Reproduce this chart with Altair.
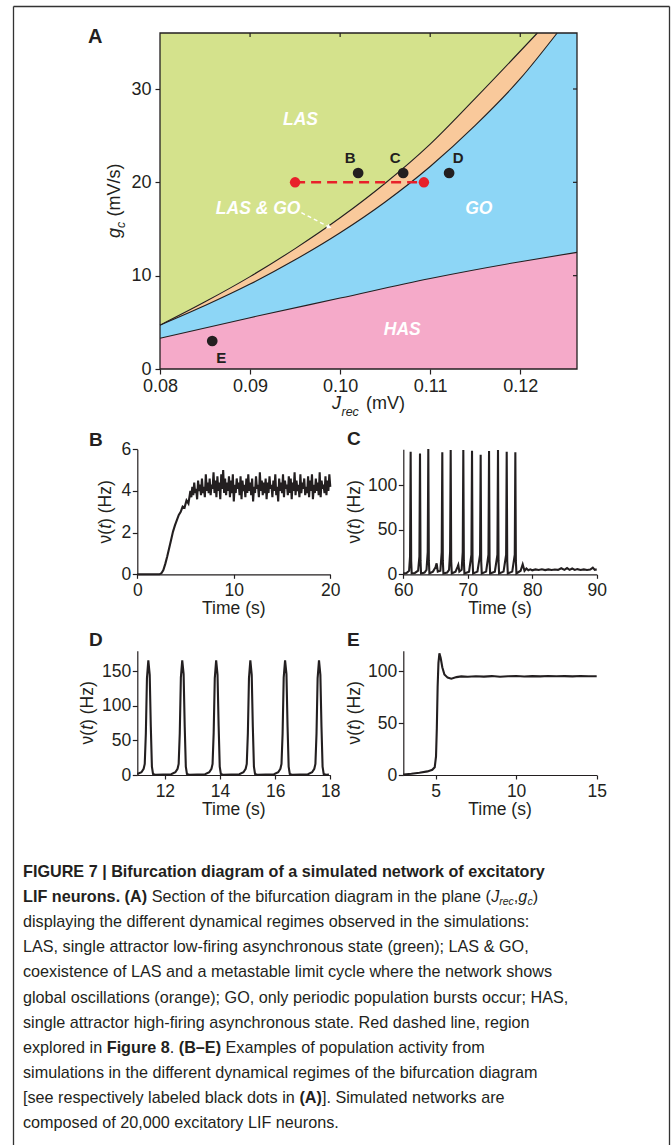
import altair as alt
import pandas as pd

# ---------------- Panel A : bifurcation diagram ----------------
J_UPPER = [0.080, 0.085, 0.090, 0.095, 0.100, 0.105, 0.110, 0.115, 0.1219]
G_UPPER = [4.7, 7.2, 9.9, 12.9, 16.2, 19.9, 24.1, 29.0, 36.0]
J_LOWER = [0.080, 0.085, 0.090, 0.095, 0.100, 0.105, 0.110, 0.115, 0.120, 0.1241]
G_LOWER = [4.7, 6.8, 9.1, 11.7, 14.6, 17.9, 21.7, 26.1, 31.1, 36.0]
J_HAS = [0.080, 0.090, 0.100, 0.110, 0.120, 0.1263]
G_HAS = [3.3, 5.5, 7.6, 9.7, 11.5, 12.5]
A_GMIN, A_GMAX = 0.0, 36.0

DOT_NAMES = ["B", "C", "D", "E"]
DOT_J = [0.1020, 0.1070, 0.1121, 0.0858]
DOT_G = [21.0, 21.0, 21.0, 3.0]
RED_J = [0.0950, 0.1093]
RED_G = [20.0, 20.0]
REGION_NAMES = ["LAS", "LAS & GO", "GO", "HAS"]
REGION_J = [0.0956, 0.0909, 0.1154, 0.1069]
REGION_G = [26.7, 17.1, 17.1, 4.2]
ARROW_J = [0.0957, 0.0988]
ARROW_G = [16.75, 15.2]
A_XTICKS = [0.08, 0.09, 0.10, 0.11, 0.12]
A_YTICKS = [0, 10, 20, 30]

# ---------------- Panel B ----------------
B_T_RISE = [0, 1, 2, 2.3, 2.5, 2.7, 2.9, 3.1, 3.3, 3.5, 3.7, 3.9, 4.1, 4.3, 4.5, 4.7, 4.9, 5.1, 5.3]
B_V_RISE = [0, 0, 0, 0.0, 0.05, 0.2, 0.5, 0.85, 1.25, 1.65, 2.05, 2.35, 2.6, 2.85, 3.0, 3.25, 3.2, 3.55, 3.4]
B_V_PLATEAU = [
    4.0, 3.7, 4.2, 3.8, 4.4, 3.9, 4.1, 3.6, 4.5, 4.0,
    4.3, 3.8, 4.6, 3.9, 4.2, 3.7, 4.8, 4.0, 4.4, 3.9,
    4.6, 3.8, 4.3, 4.1, 4.9, 3.9, 4.5, 3.7, 4.7, 4.0,
    4.4, 3.6, 4.8, 4.1, 5.0, 3.9, 4.6, 3.8, 4.4, 4.0,
    4.7, 3.7, 4.5, 3.9, 4.8, 3.5, 4.3, 3.9, 4.6, 4.1,
    4.4, 3.8, 4.7, 3.6, 4.5, 4.0, 4.3, 3.7, 4.6, 3.9,
    4.8, 4.0, 4.4, 3.8, 4.6, 3.5, 4.2, 3.9, 4.7, 4.1,
    4.3, 3.7, 4.9, 4.0, 4.5, 3.8, 4.4, 3.9, 4.6, 3.6,
    4.4, 3.9, 4.7, 4.1, 4.3, 3.7, 4.5, 4.0, 4.8, 3.8,
    4.2, 3.5, 4.6, 4.0, 4.4, 3.9, 4.8, 3.7, 4.5, 4.1,
    4.3, 3.8, 4.7, 3.9, 4.6, 3.6, 4.4, 4.0, 4.9, 3.8,
    4.5, 4.0, 4.3, 3.7, 4.8, 3.9, 4.4, 4.1, 4.6, 3.8,
    4.2, 3.9, 4.7, 3.7, 4.5, 4.0, 4.8, 3.6, 4.3, 3.9,
    4.6, 4.0, 4.4, 3.8, 4.9, 3.7, 4.5, 4.1, 4.3, 3.9,
    4.7, 3.8, 4.5, 4.0, 4.8, 4.2,
]
B_T_PLATEAU = [round(5.5 + 0.1 * i, 2) for i in range(len(B_V_PLATEAU))]  # sampling grid

# ---------------- Panel C ----------------
C_T = [60.0, 60.5, 60.9, 61.05, 61.14, 61.22, 61.30,
       61.8, 62.3, 62.50, 62.59, 62.67, 62.75,
       63.3, 63.6, 63.79, 63.88, 63.96, 64.05,
       64.6, 65.0, 65.17, 65.35, 65.75, 65.96, 66.05, 66.13, 66.22,
       66.8, 67.1, 67.26, 67.35, 67.43, 67.52,
       68.1, 68.4, 68.53, 68.7, 69.05, 69.22, 69.31, 69.39, 69.48,
       70.2, 70.57, 70.66, 70.74, 70.83,
       71.5, 71.91, 72.00, 72.08, 72.17,
       72.85, 73.21, 73.30, 73.38, 73.47,
       74.2, 74.60, 74.69, 74.77, 74.86,
       75.55, 75.95, 76.04, 76.12, 76.21,
       76.9, 77.29, 77.38, 77.46, 77.55,
       78.2, 78.52, 78.8, 79.1, 79.4, 79.7, 80.0, 80.5, 81.0, 81.5, 82.0, 82.5, 83.0,
       83.5, 84.0, 84.5, 85.0, 85.4, 85.8, 86.2, 86.6, 87.0, 87.5, 88.0, 88.5, 89.0,
       89.4, 89.7, 90.0]
C_V = [1.0, 1.5, 4.0, 20.0, 137.3, 15.0, 1.0,
       1.5, 4.0, 20.0, 135.4, 15.0, 1.0,
       2.0, 5.0, 25.0, 140.3, 15.0, 1.0,
       3.0, 8.0, 12.3, 3.0, 4.0, 25.0, 136.6, 15.0, 1.0,
       2.0, 5.0, 25.0, 139.2, 15.0, 1.0,
       3.0, 8.0, 10.4, 3.0, 5.0, 25.0, 139.2, 15.0, 1.0,
       3.0, 22.0, 138.4, 15.0, 1.0,
       3.0, 22.0, 134.0, 15.0, 1.0,
       3.0, 22.0, 138.1, 15.0, 1.0,
       3.0, 22.0, 139.2, 15.0, 1.0,
       3.0, 22.0, 137.3, 15.0, 1.0,
       3.0, 22.0, 136.6, 15.0, 1.0,
       4.0, 11.2, 4.0, 6.5, 4.5, 5.5, 4.5, 5.5, 4.8, 5.6, 4.7, 5.5, 4.8,
       5.4, 5.0, 6.8, 5.0, 7.0, 5.0, 6.5, 4.9, 5.8, 4.8, 5.5, 4.9, 5.3,
       7.5, 5.0, 5.5]

# ---------------- Panel D ----------------
D_T = [11.00, 11.15, 11.23, 11.27, 11.31, 11.35, 11.40, 11.45, 11.49, 11.53, 11.57, 11.65,
       12.23, 12.38, 12.46, 12.50, 12.54, 12.58, 12.63, 12.68, 12.72, 12.76, 12.80, 12.88,
       13.46, 13.61, 13.69, 13.73, 13.77, 13.81, 13.86, 13.91, 13.95, 13.99, 14.03, 14.11,
       14.70, 14.85, 14.93, 14.97, 15.01, 15.05, 15.10, 15.15, 15.19, 15.23, 15.27, 15.35,
       15.96, 16.11, 16.19, 16.23, 16.27, 16.31, 16.36, 16.41, 16.45, 16.49, 16.53, 16.61,
       17.19, 17.34, 17.42, 17.46, 17.50, 17.54, 17.59, 17.64, 17.68, 17.72, 17.76, 17.84,
       17.95]
D_V = [1.5, 4.0, 9.0, 16.0, 60.0, 140.0, 166.0, 145.0, 70.0, 12.0, 1.5, 0.3,
       1.0, 4.0, 9.0, 16.0, 60.0, 141.0, 166.0, 146.0, 70.0, 12.0, 1.5, 0.3,
       1.0, 4.0, 9.0, 16.0, 61.0, 140.0, 166.0, 145.0, 71.0, 12.0, 1.5, 0.3,
       1.0, 4.0, 9.0, 16.0, 60.0, 140.0, 166.0, 145.0, 70.0, 12.0, 1.5, 0.3,
       1.0, 4.0, 9.0, 16.0, 60.0, 141.0, 166.0, 146.0, 70.0, 12.0, 1.5, 0.3,
       1.0, 4.0, 9.0, 16.0, 60.0, 140.0, 166.0, 145.0, 70.0, 12.0, 1.5, 0.3,
       0.5]

# ---------------- Panel E ----------------
E_T = [3.0, 3.5, 4.0, 4.5, 4.8, 4.95, 5.03, 5.08, 5.13, 5.18, 5.24, 5.32, 5.42, 5.55, 5.75,
       5.98, 6.3, 6.6, 7.0, 7.5, 8.0, 8.5, 9.0, 9.5, 10.0, 10.5, 11.0, 11.5, 12.0, 12.5,
       13.0, 13.5, 14.0, 14.5, 15.0]
E_V = [0.5, 1.2, 2.2, 3.5, 5.0, 7.5, 18.0, 45.0, 85.0, 108.0, 117.5, 113.0, 104.0, 97.0, 94.0,
       93.0, 94.5, 95.2, 94.8, 95.4, 95.0, 95.5, 94.9, 95.3, 95.6, 95.1, 95.5, 95.2, 95.6, 95.3,
       95.5, 95.2, 95.6, 95.3, 95.4]

# ---------------- Caption ----------------
CAPTION = [
    [("FIGURE 7 | Bifurcation diagram of a simulated network of excitatory", "bold")],
    [("LIF neurons. (A)", "bold"), (" Section of the bifurcation diagram in the plane (", "normal"),
     ("J", "italic"), ("rec", "sub"), (",", "normal"), ("g", "italic"), ("c", "sub"), (")", "normal")],
    [("displaying the different dynamical regimes observed in the simulations:", "normal")],
    [("LAS, single attractor low-firing asynchronous state (green); LAS & GO,", "normal")],
    [("coexistence of LAS and a metastable limit cycle where the network shows", "normal")],
    [("global oscillations (orange); GO, only periodic population bursts occur; HAS,", "normal")],
    [("single attractor high-firing asynchronous state. Red dashed line, region", "normal")],
    [("explored in ", "normal"), ("Figure 8", "bold"), (". ", "normal"), ("(B\u2013E)", "bold"),
     (" Examples of population activity from", "normal")],
    [("simulations in the different dynamical regimes of the bifurcation diagram", "normal")],
    [("[see respectively labeled black dots in ", "normal"), ("(A)", "bold"),
     ("]. Simulated networks are", "normal")],
    [("composed of 20,000 excitatory LIF neurons.", "normal")],
]
RATE_TITLE = [("\u03bd(", "normal"), ("t", "italic"), (") (Hz)", "normal")]

# ================= layout / style (page pixel coordinates) =================
W, H = 671, 1145
FONT = "Liberation Sans, Arial, Helvetica, sans-serif"
INK = "#231f20"
GREEN, BLUE, PINK, ORANGE, RED = "#d4e28c", "#8dd6f6", "#f5aac9", "#f9c99b", "#e8202a"
ONE = pd.DataFrame({"k": [0]})

# Arial / Liberation Sans advance widths (1/1000 em) used to chain text segments
_REG = dict(zip(" !\"#$%&'()*+,-./0123456789:;<=>?@", [278, 278, 355, 556, 556, 889, 667, 191, 333, 333, 389, 584, 278, 333, 278, 278] + [556] * 10 + [278, 278, 584, 584, 584, 556, 1015]))
_REG.update(dict(zip("ABCDEFGHIJKLMNOPQRSTUVWXYZ", [667, 667, 722, 722, 667, 611, 778, 722, 278, 500, 667, 556, 833, 722, 778, 667, 778, 722, 667, 611, 722, 667, 944, 667, 667, 611])))
_REG.update(dict(zip("abcdefghijklmnopqrstuvwxyz", [556, 556, 500, 556, 556, 278, 556, 556, 222, 222, 500, 222, 833, 556, 556, 556, 556, 333, 500, 278, 556, 500, 722, 500, 500, 500])))
_REG.update({"[": 278, "]": 278, "|": 260, "\u2013": 556, "\u03bd": 500})
_BOLD = dict(_REG)
_BOLD.update(dict(zip("ABCDEFGHIJKLMNOPQRSTUVWXYZ", [722, 722, 722, 722, 667, 611, 778, 722, 278, 556, 722, 611, 833, 722, 778, 667, 778, 722, 667, 611, 722, 667, 944, 667, 667, 611])))
_BOLD.update(dict(zip("abcdefghijklmnopqrstuvwxyz", [556, 611, 556, 611, 556, 333, 611, 611, 278, 278, 556, 278, 889, 611, 611, 611, 611, 389, 556, 333, 611, 556, 778, 556, 556, 500])))
_BOLD.update({"|": 280, "!": 333, ":": 333, ";": 333})


def measure(s, size, bold=False):
    tab = _BOLD if bold else _REG
    return sum(tab.get(ch, 556) for ch in s) * size / 1000.0


def sc(domain, rng):
    return alt.Scale(domain=domain, range=rng, nice=False, zero=False)


def ax(orient, offset, values, tick=5, pad=2, domain=True, fmt=None, size=17.5):
    kw = dict(orient=orient, offset=offset, values=values, title=None, grid=False,
              tickSize=tick, labelPadding=pad, domain=domain, labelFlush=False,
              labelOverlap=False, labelFont=FONT, labelFontSize=size, labelColor=INK,
              tickColor=INK, domainColor=INK, tickWidth=1.2, domainWidth=1.2)
    if fmt:
        kw["format"] = fmt
    return alt.Axis(**kw)


def txt(x, y, s, size=17.5, weight="normal", style="normal", angle=0, align="left",
        baseline="alphabetic", color=INK):
    return alt.Chart(ONE).mark_text(
        font=FONT, fontSize=size, fontWeight=weight, fontStyle=style, angle=angle,
        align=align, baseline=baseline, color=color
    ).encode(x=alt.value(x), y=alt.value(y), text=alt.value(s))


# ---------------- Panel A ----------------
AX0, AX1, AY0, AY1 = 160, 577, 33, 369
dfU = pd.DataFrame({"J": J_UPPER, "g": G_UPPER})
dfL = pd.DataFrame({"J": J_LOWER, "g": G_LOWER})
dfH = pd.DataFrame({"J": J_HAS, "g": G_HAS})
dfDots = pd.DataFrame({"J": DOT_J, "g": DOT_G, "name": DOT_NAMES})
dfRed = pd.DataFrame({"J": RED_J, "g": RED_G})
dfReg = pd.DataFrame({"J": REGION_J, "g": REGION_G, "name": REGION_NAMES})
dfArr = pd.DataFrame({"J": ARROW_J, "g": ARROW_G})
dfXT = pd.DataFrame({"J": A_XTICKS[1:]})
dfYT = pd.DataFrame({"g": A_YTICKS[1:]})


def XA(axis=None):
    return alt.X("J:Q", scale=sc([0.08, 0.1263], [AX0, AX1]), axis=axis)


def YA(axis=None):
    return alt.Y("g:Q", scale=sc([A_GMIN, A_GMAX], [AY1, AY0]), axis=axis, stack=False)


A_layers = [
    alt.Chart(ONE).mark_rect(fill=BLUE).encode(
        x=alt.value(AX0), x2=alt.value(AX1), y=alt.value(AY0), y2=alt.value(AY1)),
    alt.Chart(dfL).mark_area(color=ORANGE, interpolate="monotone").encode(
        x=XA(), y=YA(), y2=alt.datum(A_GMAX)),
    alt.Chart(dfU).mark_area(color=GREEN, interpolate="monotone").encode(
        x=XA(), y=YA(), y2=alt.datum(A_GMAX)),
    alt.Chart(dfH).mark_area(color=PINK, interpolate="monotone").encode(
        x=XA(), y=YA(), y2=alt.datum(A_GMIN)),
    alt.Chart(dfH).mark_line(color=INK, strokeWidth=1.1, interpolate="monotone").encode(
        x=XA(ax("bottom", AY1 - H, A_XTICKS, tick=5, pad=3, domain=False, fmt=".2f", size=18)),
        y=YA(ax("left", -AX0, A_YTICKS, tick=5, pad=4, domain=False, size=18))),
]
for d in (dfU, dfL):
    A_layers.append(alt.Chart(d).mark_line(color=INK, strokeWidth=1.1, interpolate="monotone")
                    .encode(x=XA(), y=YA()))
A_layers += [
    alt.Chart(ONE).mark_rect(fillOpacity=0, stroke=INK, strokeWidth=1.3).encode(
        x=alt.value(AX0), x2=alt.value(AX1), y=alt.value(AY0), y2=alt.value(AY1)),
    alt.Chart(dfXT).mark_rule(color=INK, strokeWidth=1.2).encode(
        x=XA(), y=alt.value(AY0), y2=alt.value(AY0 + 4)),
    alt.Chart(dfYT).mark_rule(color=INK, strokeWidth=1.2).encode(
        y=YA(), x=alt.value(AX1 - 4), x2=alt.value(AX1)),
    alt.Chart(dfRed).mark_line(color=RED, strokeWidth=2.5, strokeDash=[10, 6]).encode(x=XA(), y=YA()),
    alt.Chart(dfRed).mark_circle(color=RED, size=110, opacity=1).encode(x=XA(), y=YA()),
    alt.Chart(dfDots).mark_circle(color=INK, size=115, opacity=1).encode(x=XA(), y=YA()),
    alt.Chart(dfReg).mark_text(font=FONT, fontSize=17.5, fontWeight="bold", fontStyle="italic",
                               color="white", baseline="middle").encode(
        x=XA(), y=YA(), text="name:N"),
    alt.Chart(dfArr).mark_line(color="white", strokeWidth=1.4, strokeDash=[4, 3]).encode(x=XA(), y=YA()),
    alt.Chart(dfArr.iloc[[1]]).mark_point(shape="triangle-up", filled=True, color="white",
                                          size=28, angle=114, opacity=1).encode(x=XA(), y=YA()),
]
for name, dx, dy in [("B", -8, -15), ("C", -8, -15), ("D", 9, -15), ("E", 9, 17)]:
    A_layers.append(
        alt.Chart(dfDots).transform_filter(alt.datum.name == name).mark_text(
            font=FONT, fontSize=15, fontWeight="bold", color=INK, baseline="middle",
            dx=dx, dy=dy).encode(x=XA(), y=YA(), text="name:N"))


# ---------------- Panels B-E ----------------
def trace(t, v, xdom, xr, ydom, yr, xticks, yticks):
    df = pd.DataFrame({"t": t, "v": v})
    return alt.Chart(df).mark_line(color=INK, strokeWidth=2.1).encode(
        x=alt.X("t:Q", scale=sc(xdom, xr), axis=ax("bottom", yr[0] - H, xticks, tick=4, pad=3)),
        y=alt.Y("v:Q", scale=sc(ydom, yr), axis=ax("left", -xr[0], yticks, tick=5, pad=1.5)),
    )


LX, RX = [137.3, 330.3], [403.3, 596.7]
TOPROW, BOTROW = [574.3, 449.3], [775.0, 650.7]
panelB = trace(B_T_RISE + B_T_PLATEAU, B_V_RISE + B_V_PLATEAU, [0, 20], LX, [0, 6], TOPROW,
               [0, 10, 20], [0, 2, 4, 6])
panelC = trace(C_T, C_V, [60, 90], RX, [0, 140], TOPROW, [60, 70, 80, 90], [0, 50, 100])
panelD = trace(D_T, D_V, [11, 18], LX, [0, 180], BOTROW, [12, 14, 16, 18], [0, 50, 100, 150])
panelE = trace(E_T, E_V, [3, 15], RX, [0, 120], BOTROW, [5, 10, 15], [0, 50, 100])

# ---------------- texts ----------------
texts = [
    txt(88, 42.5, "A", size=20, weight="bold"),
    txt(89, 446, "B", size=19, weight="bold"),
    txt(347, 445, "C", size=19, weight="bold"),
    txt(89, 646, "D", size=19, weight="bold"),
    txt(347, 646, "E", size=19, weight="bold"),
    # axis titles of A
    txt(120, 238, "g", size=18, style="italic", angle=270),
    txt(124.5, 228, "c", size=12.5, style="italic", angle=270),
    txt(120, 216.5, "(mV/s)", size=18, angle=270),
    txt(332, 409, "J", size=18, style="italic"),
    txt(341.5, 415.5, "rec", size=12.5, style="italic"),
    txt(366, 409, "(mV)", size=18),
    txt(233.8, 613.5, "Time (s)", align="center"),
    txt(500, 613.5, "Time (s)", align="center"),
    txt(233.8, 814.5, "Time (s)", align="center"),
    txt(500, 814.5, "Time (s)", align="center"),
]

# rotated rate titles nu(t) (Hz), pieces chained bottom-to-top
TSIZE = 17.5
for bx, cy in [(111, 511.8), (359.5, 511.8), (93, 712.8), (359.5, 712.8)]:
    total = sum(measure(s, TSIZE) for s, _ in RATE_TITLE)
    y = cy + total / 2
    for s, kind in RATE_TITLE:
        texts.append(txt(bx, y, s, size=TSIZE, style="italic" if kind == "italic" else "normal",
                         angle=270))
        y -= measure(s, TSIZE)

# caption: segments chained left to right on each line
CAP_SIZE, SUB_SIZE = 16.2, 10.5
BASE0, LEAD, CAP_X = 876.7, 25.17, 23
for i, line in enumerate(CAPTION):
    x = CAP_X
    y = BASE0 + LEAD * i
    for s, kind in line:
        bold = kind == "bold"
        size = SUB_SIZE if kind == "sub" else CAP_SIZE
        lead = len(s) - len(s.lstrip(" "))
        xd = x + measure(s[:lead], size, bold)
        texts.append(txt(xd, y + (3 if kind == "sub" else 0), s.strip(" "), size=size,
                         weight="bold" if bold else "normal",
                         style="italic" if kind in ("italic", "sub") else "normal"))
        x += measure(s, size, bold)

# outer frame
frame = [
    alt.Chart(ONE).mark_rule(color="#333333", strokeWidth=1.3).encode(
        x=alt.value(13.5), x2=alt.value(669.5), y=alt.value(6.5)),
    alt.Chart(ONE).mark_rule(color="#333333", strokeWidth=1.3).encode(
        x=alt.value(13.5), y=alt.value(6.5), y2=alt.value(H)),
    alt.Chart(ONE).mark_rule(color="#333333", strokeWidth=1.3).encode(
        x=alt.value(669.5), y=alt.value(6.5), y2=alt.value(H)),
]

chart = alt.layer(*A_layers, panelB, panelC, panelD, panelE, *frame, *texts).resolve_scale(
    x="independent", y="independent"
).resolve_axis(
    x="independent", y="independent"
).properties(
    width=W, height=H, padding=0, autosize=alt.AutoSizeParams(type="none"),
    background="white",
).configure_view(stroke="transparent")

chart.save("out.html", embed_options={"renderer": "svg", "actions": False})
